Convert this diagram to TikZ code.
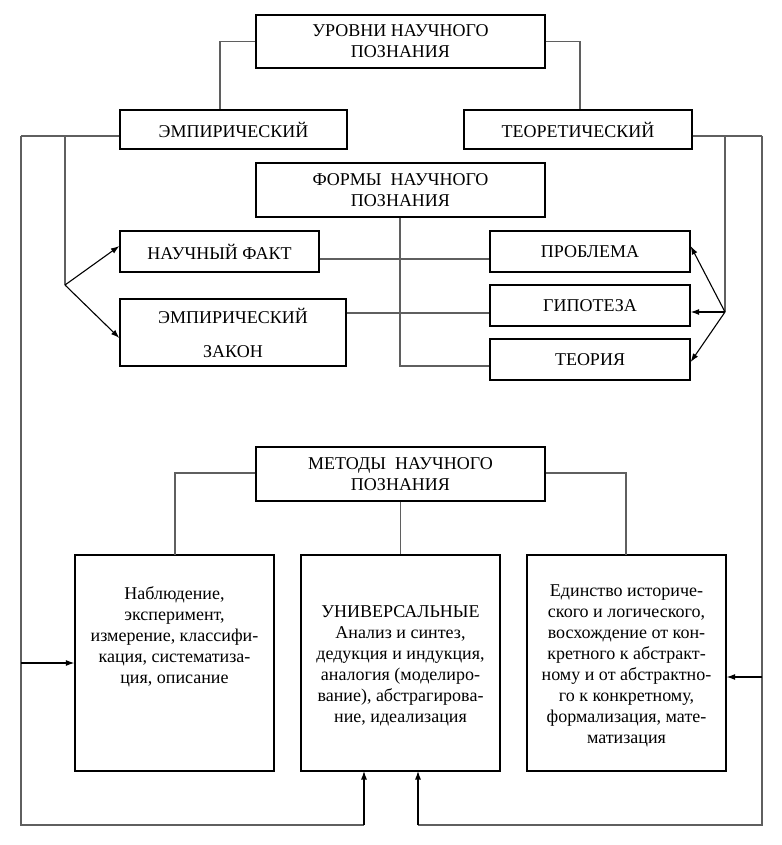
\documentclass[tikz,border=0pt]{standalone}
\usepackage{fontspec}
\setmainfont{Liberation Serif}
\usetikzlibrary{arrows.meta}
\definecolor{linegray}{RGB}{95,95,95}
\begin{document}
\begin{tikzpicture}[x=1pt,y=-1pt,
  box/.style={draw=black, line width=1.3pt, rectangle, inner sep=0pt, align=center, font=\fontsize{18}{21}\selectfont},
  conn/.style={draw=linegray, line width=1.1pt},
  arr/.style={draw=black, line width=1.1pt, -{Latex[length=8.5pt,width=6pt]}},
  txt/.style={inner sep=0pt, align=center, font=\fontsize{18}{21}\selectfont}]
\useasboundingbox (0,0) rectangle (781,845);
\fill[white] (0,0) rectangle (781,845);

% boxes
\node[box, minimum width=289pt, minimum height=53pt] (top) at (400.5,41.5) {УРОВНИ НАУЧНОГО\\ПОЗНАНИЯ};
\node[box, minimum width=227pt, minimum height=39pt] (emp) at (233.5,129.5) {ЭМПИРИЧЕСКИЙ};
\node[box, minimum width=228pt, minimum height=39pt] (teor) at (578,129.5) {ТЕОРЕТИЧЕСКИЙ};
\node[box, minimum width=289pt, minimum height=54pt] (formy) at (400.5,190) {ФОРМЫ\ \ НАУЧНОГО\\ПОЗНАНИЯ};
\node[box, minimum width=199pt, minimum height=41pt] (fakt) at (219.5,251.5) {НАУЧНЫЙ ФАКТ};
\node[box, minimum width=226pt, minimum height=67pt] (zakon) at (233,332.5) {ЭМПИРИЧЕСКИЙ\\[13pt]ЗАКОН};
\node[box, minimum width=200pt, minimum height=41pt] (probl) at (590,251.5) {ПРОБЛЕМА};
\node[box, minimum width=200pt, minimum height=41pt] (gipot) at (590,305.5) {ГИПОТЕЗА};
\node[box, minimum width=200pt, minimum height=41pt] (teoriya) at (590,359.5) {ТЕОРИЯ};
\node[box, minimum width=289pt, minimum height=54pt] (metody) at (400.5,474) {МЕТОДЫ\ \ НАУЧНОГО\\ПОЗНАНИЯ};
\node[box, minimum width=199pt, minimum height=216pt] (m1) at (174.5,663) {};
\node[box, minimum width=199pt, minimum height=216pt] (m2) at (400.5,663) {};
\node[box, minimum width=199pt, minimum height=216pt] (m3) at (626.5,663) {};

\node[txt] (t1) at (174.5,637) {Наблюдение,\\эксперимент,\\измерение, классифи-\\кация, систематиза-\\ция, описание};
\node[txt] (t2) at (400.5,666) {УНИВЕРСАЛЬНЫЕ\\Анализ и синтез,\\дедукция и индукция,\\аналогия (моделиро-\\вание), абстрагирова-\\ние, идеализация};
\node[txt] (t3) at (626.5,666) {Единство историче-\\ского и логического,\\восхождение от кон-\\кретного к абстракт-\\ному и от абстрактно-\\го к конкретному,\\формализация, мате-\\матизация};

% coordinates
\coordinate (lo) at (21,136);
\coordinate (li) at (65,136);
\coordinate (lf) at (65,285);
\coordinate (ro) at (762,136);
\coordinate (ri) at (725,136);
\coordinate (rf) at (725,312);
\coordinate (lb) at (21,825);
\coordinate (rb) at (762,825);

% connectors top
\draw[conn] (top.west) -| ([xshift=-13.5pt]emp.north);
\draw[conn] (top.east) -| ([xshift=2pt]teor.north);
\draw[conn] ([yshift=-6.5pt]emp.west) -- (lo);
\draw[conn] ([yshift=-6.5pt]teor.east) -- (ro);
\draw[conn] (li) -- (lf);
\draw[conn] (ri) -- (rf);

% forms
\draw[conn] ([yshift=-7.5pt]fakt.east) -- ([yshift=-7.5pt]probl.west);
\draw[conn] ([yshift=19.5pt]zakon.east) -- ([yshift=-7.5pt]gipot.west);
\draw[conn] (formy.south -| 400,0) |- ([yshift=-6.5pt]teoriya.west);

% fork arrows
\draw[arr] (lf) -- ([yshift=5.5pt]fakt.west);
\draw[arr] (lf) -- ([yshift=-5.5pt]zakon.west);
\draw[arr] (rf) -- ([yshift=5.5pt]probl.east);
\draw[arr] (rf) -- ([yshift=-6.5pt]gipot.east);
\draw[arr] (rf) -- ([yshift=-2.5pt]teoriya.east);

% methods
\draw[conn] ([yshift=1pt]metody.west) -| (175,555);
\draw[conn] ([yshift=1pt]metody.east) -| (626,555);
\draw[conn] (metody.south) -- (m2.north);

% outer loops
\draw[conn] (lo) -- (lb) -- (364,825);
\draw[arr] (364,825) -- (364,771);
\draw[conn] (ro) -- (rb) -- (418,825);
\draw[arr] (418,825) -- (418,771);
\draw[arr] (21,663) -- (m1.west);
\draw[arr] (762,677) -- ([yshift=-14pt]m3.east);
\end{tikzpicture}
\end{document}
